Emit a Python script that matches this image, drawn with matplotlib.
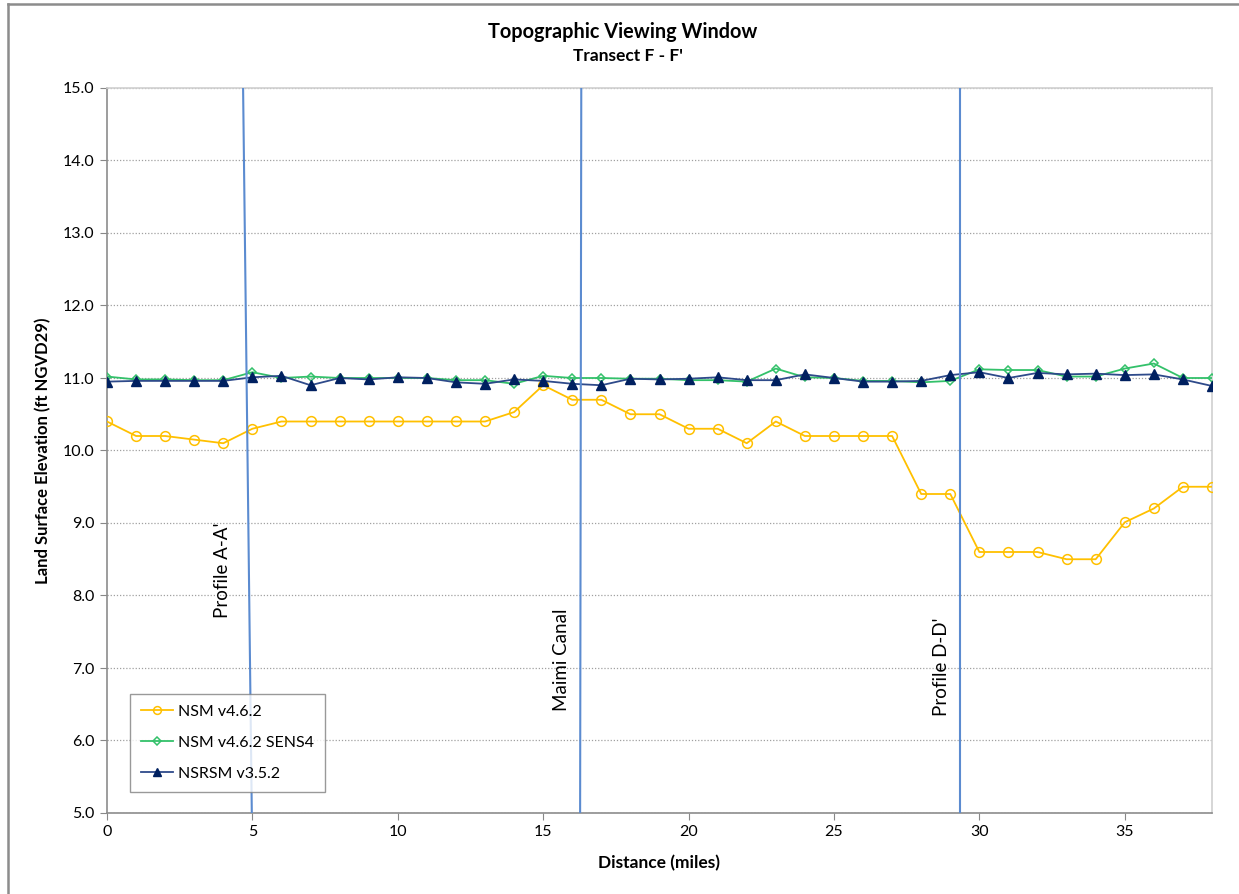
import matplotlib
matplotlib.use("Agg")
import matplotlib.pyplot as plt
from matplotlib.lines import Line2D

plt.rcParams["font.family"] = ["Lato", "DejaVu Sans"]

# Distance along transect (miles)
distance = list(range(39))

nsm_462 = [10.4, 10.2, 10.2, 10.15, 10.1, 10.3, 10.4, 10.4, 10.4, 10.4,
           10.4, 10.4, 10.4, 10.4, 10.53, 10.9, 10.7, 10.7, 10.5, 10.5,
           10.3, 10.3, 10.1, 10.4, 10.2, 10.2, 10.2, 10.2, 9.4, 9.4,
           8.6, 8.6, 8.6, 8.5, 8.5, 9.01, 9.2, 9.5, 9.5]

nsm_462_sens4 = [11.02, 10.98, 10.98, 10.97, 10.97, 11.08, 11.0, 11.02, 11.0, 11.0,
                 11.0, 11.0, 10.97, 10.97, 10.92, 11.03, 11.0, 11.0, 10.99, 10.99,
                 10.97, 10.97, 10.95, 11.13, 11.01, 11.0, 10.96, 10.96, 10.94, 10.96,
                 11.12, 11.11, 11.11, 11.02, 11.02, 11.13, 11.2, 11.0, 11.0]

nsrsm_352 = [10.95, 10.96, 10.96, 10.96, 10.96, 11.01, 11.03, 10.9, 11.0, 10.98,
             11.01, 11.0, 10.94, 10.92, 10.98, 10.96, 10.92, 10.9, 10.99, 10.98,
             10.99, 11.01, 10.97, 10.97, 11.05, 11.0, 10.95, 10.95, 10.96, 11.04,
             11.08, 11.0, 11.07, 11.05, 11.06, 11.04, 11.05, 10.98, 10.89]

# Reference locations: (x at bottom, x at top), label x, label y
ref_labels = ["Profile A-A'", "Maimi Canal", "Profile D-D'"]
ref_x_bottom = [4.98, 16.27, 29.33]
ref_x_top = [4.68, 16.31, 29.33]
ref_label_x = [3.96, 15.63, 28.7]
ref_label_y = [8.35, 7.11, 7.01]

fig = plt.figure(figsize=(12.39, 8.94), dpi=100)
ax = fig.add_axes([107 / 1239, 81 / 894, 1105 / 1239, 725 / 894])

ax.plot(distance, nsm_462, color="#FFC000", linewidth=1.3, marker="o",
        markersize=7, markerfacecolor="none", markeredgecolor="#FFC000",
        markeredgewidth=1.1, label="NSM v4.6.2", zorder=3)
ax.plot(distance, nsm_462_sens4, color="#33C16A", linewidth=1.3, marker="D",
        markersize=4.5, markerfacecolor="none", markeredgecolor="#33C16A",
        markeredgewidth=1.1, label="NSM v4.6.2 SENS4", zorder=3)
ax.plot(distance, nsrsm_352, color="#2E4A8A", linewidth=1.3, marker="^",
        markersize=7, markerfacecolor="#002060", markeredgecolor="#002060",
        label="NSRSM v3.5.2", zorder=4)

for xb, xt, lx, ly, lab in zip(ref_x_bottom, ref_x_top, ref_label_x,
                               ref_label_y, ref_labels):
    ax.plot([xb, xt], [5.0, 15.0], color="#5B8BD0", linewidth=1.5, zorder=5)
    ax.text(lx, ly, lab, rotation=90, ha="center", va="center",
            fontsize=13.5, color="black")

ax.set_xlim(0, 38)
ax.set_ylim(5.0, 15.0)
ax.set_xticks(range(0, 36, 5))
ax.set_yticks([5 + i for i in range(11)])
ax.set_yticklabels([f"{5 + i:.1f}" for i in range(11)])
ax.tick_params(axis="both", labelsize=11.5, direction="out", length=5,
               color="#888888", pad=4)
ax.yaxis.grid(True, linestyle=(0, (1, 1.5)), color="#A0A0A0", linewidth=0.9)
ax.set_axisbelow(True)

for side in ["left", "bottom"]:
    ax.spines[side].set_color("#8C8C8C")
    ax.spines[side].set_linewidth(1.2)
for side in ["top", "right"]:
    ax.spines[side].set_color("#D0D0D0")
    ax.spines[side].set_linewidth(1.2)

ax.set_xlabel("Distance (miles)", fontsize=12.5, fontweight="bold", labelpad=11)
ax.set_ylabel("Land Surface Elevation (ft NGVD29)", fontsize=12,
              fontweight="bold", labelpad=8)

fig.text(623 / 1239, 1 - 32 / 894, "Topographic Viewing Window",
         ha="center", va="center", fontsize=14.3, fontweight="bold")
fig.text(628 / 1239, 1 - 56 / 894, "Transect F - F'",
         ha="center", va="center", fontsize=12.5, fontweight="bold")

leg = ax.legend(loc="lower left", bbox_to_anchor=(23 / 1105, 21 / 725),
                borderaxespad=0, fontsize=11.5, frameon=True, fancybox=False,
                edgecolor="#808080", borderpad=0.7, labelspacing=1.05,
                handlelength=2.0, handletextpad=0.3, markerscale=0.8)
leg.get_frame().set_linewidth(1.0)
leg.set_zorder(10)

# Outer chart border (cropped in the reference)
fig.add_artist(Line2D([8 / 1239, 8 / 1239], [0, 1 - 4 / 894],
                      transform=fig.transFigure, color="#8C8C8C", linewidth=1.8))
fig.add_artist(Line2D([8 / 1239, 1], [1 - 4 / 894, 1 - 4 / 894],
                      transform=fig.transFigure, color="#8C8C8C", linewidth=1.8))

fig.savefig("out.png", dpi=100)
plt.close(fig)
